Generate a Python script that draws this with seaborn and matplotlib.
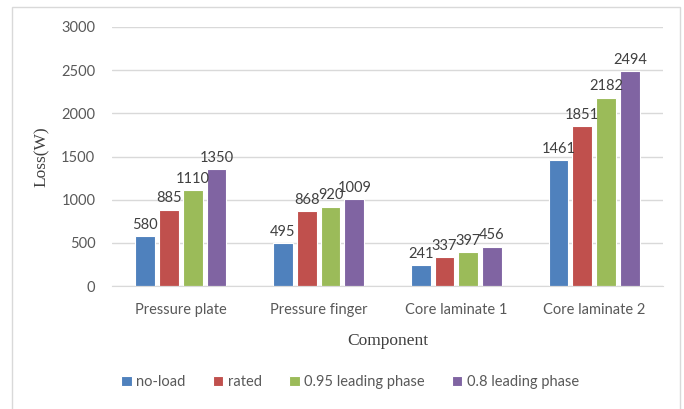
import numpy as np
import pandas as pd
import seaborn as sns
import matplotlib.pyplot as plt
from matplotlib.patches import Rectangle

components = ["Pressure plate", "Pressure finger", "Core laminate 1", "Core laminate 2"]
conditions = ["no-load", "rated", "0.95 leading phase", "0.8 leading phase"]
no_load = [580, 495, 241, 1461]
rated = [885, 868, 337, 1851]
lead_095 = [1110, 920, 397, 2182]
lead_08 = [1350, 1009, 456, 2494]
colors = ["#4F81BD", "#C0504D", "#9BBB59", "#8064A2"]

df = pd.DataFrame({"Component": components * 4,
                   "Condition": np.repeat(conditions, 4),
                   "Loss": no_load + rated + lead_095 + lead_08})

sns.set_style("white")
plt.rcParams['font.family'] = ['Lato', 'DejaVu Sans']

fig = plt.figure(figsize=(6.84, 4.09), dpi=100)
ax = fig.add_axes([112 / 684, 1 - 286 / 409, (663 - 112) / 684, (286 - 27) / 409])

sns.barplot(data=df, x="Component", y="Loss", hue="Condition", palette=colors,
            saturation=1, width=0.69, gap=0.17, edgecolor="white", linewidth=0.8,
            ax=ax, legend=True)

for cont in ax.containers:
    ax.bar_label(cont, padding=3, fontsize=10.5, color="#404040")

ax.set_ylim(0, 3000)
ax.set_yticks(np.arange(0, 3001, 500))
ax.yaxis.grid(True, color="#D9D9D9", linewidth=1)
ax.set_axisbelow(True)
for s in ["top", "right", "left"]:
    ax.spines[s].set_visible(False)
ax.spines["bottom"].set_color("#D9D9D9")
ax.tick_params(axis="both", length=0, labelsize=10.5, labelcolor="#595959")
ax.tick_params(axis="y", pad=12)
ax.tick_params(axis="x", pad=12)
ax.set_xlabel("Component", family="Liberation Serif", fontsize=12.5, color="#404040", labelpad=12)
ax.set_ylabel("Loss(W)", family="Liberation Serif", fontsize=12.5, color="#404040", labelpad=8)

handles, labels = ax.get_legend_handles_labels()
ax.get_legend().remove()
fig.legend(handles, labels, loc="center", bbox_to_anchor=(0.512, 1 - 382 / 409), ncol=4,
           frameon=False, handlelength=0.7, handleheight=0.7, handletextpad=0.3,
           columnspacing=1.9, fontsize=10.5, labelcolor="#595959")

fig.patches.append(Rectangle((12 / 684, -0.05), (680 - 12) / 684, 1 - 7 / 409 + 0.05,
                             transform=fig.transFigure, fill=False,
                             edgecolor="#D9D9D9", linewidth=1))

fig.savefig("out.png", dpi=100)
